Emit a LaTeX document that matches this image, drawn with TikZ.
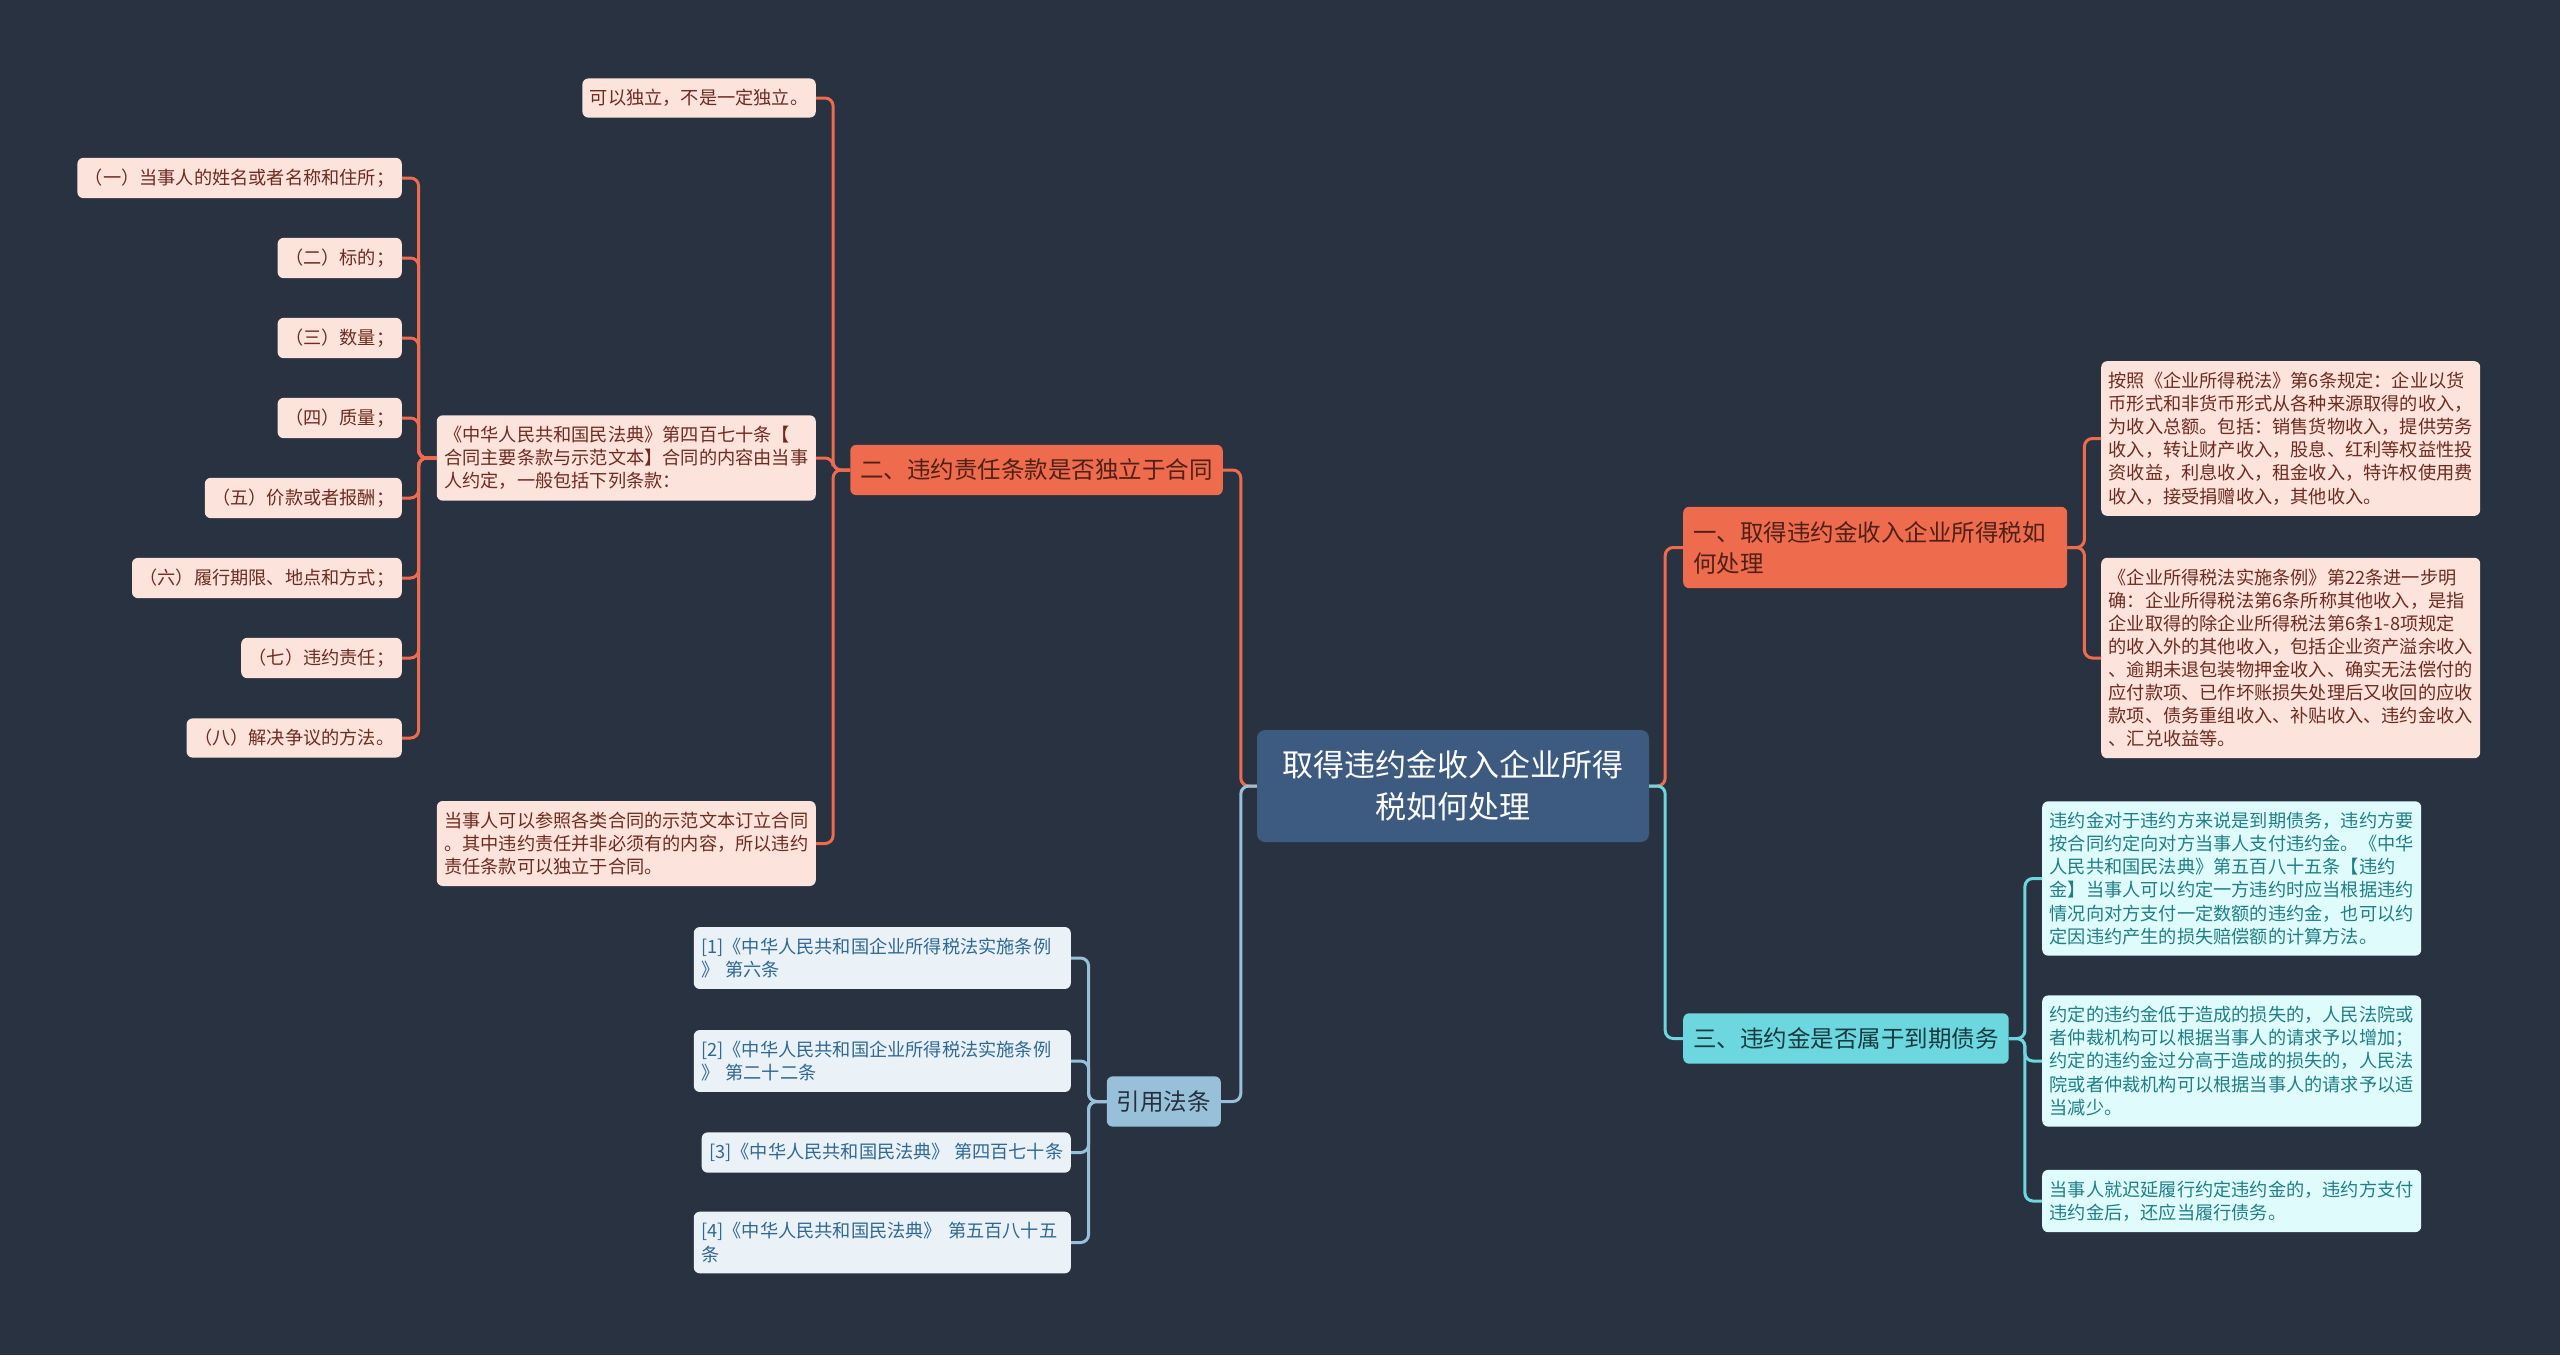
\documentclass[tikz,border=0pt]{standalone}
\usepackage{fontspec}
\setmainfont{Noto Sans CJK SC}
\usepackage{tikz}
\definecolor{mapbg}{HTML}{293241}
\definecolor{maproot}{HTML}{3D5A80}
\definecolor{maporange}{HTML}{EE6C4D}
\definecolor{mapcyan}{HTML}{6CD7DF}
\definecolor{mapblue}{HTML}{98C1D9}
\definecolor{leafpink}{HTML}{FCE3DC}
\definecolor{leafcyan}{HTML}{E0FBFC}
\definecolor{leafblue}{HTML}{EAF2F8}
\definecolor{textbrown}{HTML}{6E2B1F}
\definecolor{textteal}{HTML}{1F7E86}
\definecolor{textblue}{HTML}{2F6894}
\definecolor{textred}{HTML}{4E2016}
\definecolor{textsea}{HTML}{14393F}
\definecolor{textdark}{HTML}{25303E}

\begin{document}
\begin{tikzpicture}[
    x=1pt, y=-1pt,
    root/.style={rounded corners=8pt, fill=maproot, text=white, align=center, font=\fontsize{31}{42}\selectfont, minimum width=392pt, minimum height=112pt},
    branch/.style={rounded corners=6pt, fill=#1, align=left, font=\fontsize{23.5}{31}\selectfont, inner xsep=10pt, inner ysep=14.25pt},
    leaf/.style={rounded corners=6pt, fill=#1, align=left, font=\fontsize{18.2}{23.1}\selectfont, inner xsep=7.5pt, inner ysep=10.9pt},
    pinkleaf/.style={leaf=leafpink, text=textbrown},
    cyanleaf/.style={leaf=leafcyan, text=textteal},
    blueleaf/.style={leaf=leafblue, text=textblue},
    link/.style={draw=#1, line width=3pt, rounded corners=8pt},
]
    \fill[mapbg] (0,0) rectangle (2560,1355);
    \useasboundingbox (0,0) rectangle (2560,1355);

    % centre and main branches
    \node[root] (root) at (1453,786) {取得违约金收入企业所得\\税如何处理};
    \node[branch=maporange, text=textred, anchor=west, text width=364pt] (b1) at (1683,547.5) {一、取得违约金收入企业所得税如\\何处理};
    \node[branch=mapcyan, text=textsea, anchor=west] (b3) at (1683,1038.5) {三、违约金是否属于到期债务};
    \node[branch=maporange, text=textred, anchor=east] (b2) at (1223,470) {二、违约责任条款是否独立于合同};
    \node[branch=mapblue, text=textdark, anchor=east] (b4) at (1221,1101.5) {引用法条};

    % right side
    \node[pinkleaf, anchor=west] (c1) at (2101,438.5) {按照《企业所得税法》第6条规定：企业以货\\币形式和非货币形式从各种来源取得的收入，\\为收入总额。包括：销售货物收入，提供劳务\\收入，转让财产收入，股息、红利等权益性投\\资收益，利息收入，租金收入，特许权使用费\\收入，接受捐赠收入，其他收入。};
    \node[pinkleaf, anchor=west] (c2) at (2101,658) {《企业所得税法实施条例》第22条进一步明\\确：企业所得税法第6条所称其他收入，是指\\企业取得的除企业所得税法第6条1-8项规定\\的收入外的其他收入，包括企业资产溢余收入\\、逾期未退包装物押金收入、确实无法偿付的\\应付款项、已作坏账损失处理后又收回的应收\\款项、债务重组收入、补贴收入、违约金收入\\、汇兑收益等。};
    \node[cyanleaf, anchor=west] (d1) at (2042,878.5) {违约金对于违约方来说是到期债务，违约方要\\按合同约定向对方当事人支付违约金。《中华\\人民共和国民法典》第五百八十五条【违约\\金】当事人可以约定一方违约时应当根据违约\\情况向对方支付一定数额的违约金，也可以约\\定因违约产生的损失赔偿额的计算方法。};
    \node[cyanleaf, anchor=west] (d2) at (2042,1061) {约定的违约金低于造成的损失的，人民法院或\\者仲裁机构可以根据当事人的请求予以增加；\\约定的违约金过分高于造成的损失的，人民法\\院或者仲裁机构可以根据当事人的请求予以适\\当减少。};
    \node[cyanleaf, anchor=west] (d3) at (2042,1201) {当事人就迟延履行约定违约金的，违约方支付\\违约金后，还应当履行债务。};

    % left side
    \node[pinkleaf, anchor=east] (e0) at (816,98) {可以独立，不是一定独立。};
    \node[pinkleaf, anchor=east] (e1) at (816,458) {《中华人民共和国民法典》第四百七十条【\\合同主要条款与示范文本】合同的内容由当事\\人约定，一般包括下列条款：};
    \node[pinkleaf, anchor=east] (e2) at (816,843.5) {当事人可以参照各类合同的示范文本订立合同\\。其中违约责任并非必须有的内容，所以违约\\责任条款可以独立于合同。};

    \node[pinkleaf, anchor=east] (f1) at (402,178) {（一）当事人的姓名或者名称和住所；};
    \node[pinkleaf, anchor=east] (f2) at (402,258) {（二）标的；};
    \node[pinkleaf, anchor=east] (f3) at (402,338) {（三）数量；};
    \node[pinkleaf, anchor=east] (f4) at (402,418) {（四）质量；};
    \node[pinkleaf, anchor=east] (f5) at (402,498) {（五）价款或者报酬；};
    \node[pinkleaf, anchor=east] (f6) at (402,578) {（六）履行期限、地点和方式；};
    \node[pinkleaf, anchor=east] (f7) at (402,658) {（七）违约责任；};
    \node[pinkleaf, anchor=east] (f8) at (402,738) {（八）解决争议的方法。};

    \node[blueleaf, anchor=east, text width=362pt] (g1) at (1071,958) {[1]《中华人民共和国企业所得税法实施条例\\》 第六条};
    \node[blueleaf, anchor=east, text width=362pt] (g2) at (1071,1061) {[2]《中华人民共和国企业所得税法实施条例\\》 第二十二条};
    \node[blueleaf, anchor=east] (g3) at (1071,1152.5) {[3]《中华人民共和国民法典》 第四百七十条};
    \node[blueleaf, anchor=east, text width=362pt] (g4) at (1071,1242.5) {[4]《中华人民共和国民法典》 第五百八十五\\条};

    % connectors
    \draw[link=maporange] (root.east) -- ++(16,0) |- (b1.west);
    \draw[link=maporange] (root.west) -- ++(-16,0) |- (b2.east);
    \draw[link=mapcyan] (root.east) -- ++(16,0) |- (b3.west);
    \draw[link=mapblue] (root.west) -- ++(-16,0) |- (b4.east);

    \draw[link=maporange] (b1.east) -- ++(17,0) |- (c1.west);
    \draw[link=maporange] (b1.east) -- ++(17,0) |- (c2.west);
    \draw[link=mapcyan] (b3.east) -- ++(16,0) |- (d1.west);
    \draw[link=mapcyan] (b3.east) -- ++(16,0) |- (d2.west);
    \draw[link=mapcyan] (b3.east) -- ++(16,0) |- (d3.west);

    \draw[link=maporange] (b2.west) -- ++(-17,0) |- (e0.east);
    \draw[link=maporange] (b2.west) -- ++(-17,0) |- (e1.east);
    \draw[link=maporange] (b2.west) -- ++(-17,0) |- (e2.east);
    \draw[link=maporange] (e1.west) -- ++(-18,0) |- (f1.east);
    \draw[link=maporange] (e1.west) -- ++(-18,0) |- (f2.east);
    \draw[link=maporange] (e1.west) -- ++(-18,0) |- (f3.east);
    \draw[link=maporange] (e1.west) -- ++(-18,0) |- (f4.east);
    \draw[link=maporange] (e1.west) -- ++(-18,0) |- (f5.east);
    \draw[link=maporange] (e1.west) -- ++(-18,0) |- (f6.east);
    \draw[link=maporange] (e1.west) -- ++(-18,0) |- (f7.east);
    \draw[link=maporange] (e1.west) -- ++(-18,0) |- (f8.east);

    \draw[link=mapblue] (b4.west) -- ++(-18,0) |- (g1.east);
    \draw[link=mapblue] (b4.west) -- ++(-18,0) |- (g2.east);
    \draw[link=mapblue] (b4.west) -- ++(-18,0) |- (g3.east);
    \draw[link=mapblue] (b4.west) -- ++(-18,0) |- (g4.east);
\end{tikzpicture}
\end{document}
